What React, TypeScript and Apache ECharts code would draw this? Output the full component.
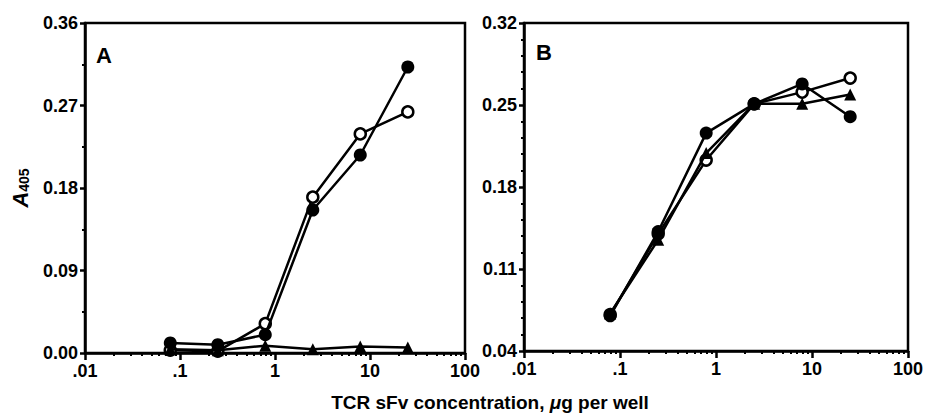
import React, { useEffect, useRef } from "react";
import * as echarts from "echarts";

const CONC = [0.079, 0.25, 0.79, 2.5, 7.9, 25];
const A_FILLED = [0.011, 0.009, 0.02, 0.156, 0.216, 0.312];
const A_OPEN = [0.003, 0.002, 0.032, 0.17, 0.239, 0.263];
const A_TRI = [0.004, 0.003, 0.008, 0.004, 0.007, 0.006];
const B_FILLED = [0.07, 0.142, 0.226, 0.251, 0.268, 0.24];
const B_OPEN = [0.071, 0.14, 0.203, 0.251, 0.261, 0.273];
const B_TRI = [0.072, 0.135, 0.209, 0.251, 0.251, 0.259];

const X_LABELS: Record<string, string> = { "-2": ".01", "-1": ".1", "0": "1", "1": "10", "2": "100" };
const A_Y_TICKS = [0, 0.09, 0.18, 0.27, 0.36];
const B_Y_TICKS = [0.04, 0.11, 0.18, 0.25, 0.32];

const FONT = "Liberation Sans";

function xMinor(): number[] {
  const out: number[] = [];
  for (let d = -2; d <= 1; d++) {
    for (let k = 2; k <= 9; k++) out.push(k * Math.pow(10, d));
  }
  return out;
}

function yMinorB(): number[] {
  const out: number[] = [];
  for (let i = 0; i < B_Y_TICKS.length - 1; i++) {
    const step = (B_Y_TICKS[i + 1] - B_Y_TICKS[i]) / 5;
    for (let j = 1; j < 5; j++) out.push(+(B_Y_TICKS[i] + step * j).toFixed(4));
  }
  return out;
}

const pair = (ys: number[]) => CONC.map((c, i) => [c, ys[i]]);

export default function App() {
  const ref = useRef<HTMLDivElement>(null);
  useEffect(() => {
    if (!ref.current) return;
    const chart = echarts.init(ref.current, null, { renderer: "svg" });
    const labelStyle = {
      color: "#000",
      fontFamily: FONT,
      fontWeight: "bold" as const,
      fontSize: 18,
    };
    const lineStyle = { color: "#000", width: 2.5 };
    const mainX = (grid: number) => ({
      type: "log" as const,
      logBase: 10,
      gridIndex: grid,
      min: 0.01,
      max: 100,
      position: "bottom" as const,
      axisLine: { show: true, lineStyle },
      axisTick: { show: true, length: 7, inside: false, lineStyle: { color: "#000", width: 2.5 } },
      minorTick: { show: false },
      splitLine: { show: false },
      axisLabel: {
        ...labelStyle,
        margin: 9,
        formatter: (v: number) => X_LABELS[String(Math.round(Math.log10(v)))] ?? "",
      },
    });
    const minorX = (grid: number) => ({
      type: "log" as const,
      logBase: 10,
      gridIndex: grid,
      min: 0.01,
      max: 100,
      position: "bottom" as const,
      axisLine: { show: false },
      axisTick: {
        show: true,
        length: 3,
        inside: false,
        customValues: xMinor(),
        lineStyle: { color: "#000", width: 2 },
      },
      splitLine: { show: false },
      axisLabel: { show: false },
    });
    const series = (name: string, data: number[], grid: number, sym: string, open: boolean, size: number) => ({
      name,
      type: "line" as const,
      xAxisIndex: grid === 0 ? 0 : 2,
      yAxisIndex: grid === 0 ? 0 : 1,
      data: pair(data),
      symbol: sym,
      symbolSize: size,
      lineStyle: { color: "#000", width: 2.5 },
      itemStyle: open
        ? { color: "#fff", borderColor: "#000", borderWidth: 2.5 }
        : { color: "#000", borderColor: "#000", borderWidth: 0 },
      z: open ? 3 : 4,
    });

    chart.setOption({
      animation: false,
      backgroundColor: "#fff",
      grid: [
        { left: 85, top: 23, width: 380, height: 330, show: true, borderColor: "#000", borderWidth: 2.5, backgroundColor: "transparent" },
        { left: 524, top: 23, width: 384, height: 328, show: true, borderColor: "#000", borderWidth: 2.5, backgroundColor: "transparent" },
      ],
      xAxis: [mainX(0), minorX(0), mainX(1), minorX(1)],
      yAxis: [
        {
          type: "value",
          gridIndex: 0,
          min: 0,
          max: 0.36,
          interval: 0.09,
          axisLine: { show: true, lineStyle },
          axisTick: { show: true, length: 5, lineStyle: { color: "#000", width: 2.5 } },
          minorTick: { show: true, splitNumber: 2, length: 3, lineStyle: { color: "#000", width: 2 } },
          splitLine: { show: false },
          axisLabel: { ...labelStyle, margin: 7, formatter: (v: number) => v.toFixed(2) },
        },
        {
          type: "value",
          gridIndex: 1,
          min: 0.04,
          max: 0.32,
          position: "left",
          axisLine: { show: true, lineStyle },
          axisTick: { show: true, length: 5, customValues: B_Y_TICKS, lineStyle: { color: "#000", width: 2.5 } },
          splitLine: { show: false },
          axisLabel: { ...labelStyle, margin: 7, customValues: B_Y_TICKS, formatter: (v: number) => v.toFixed(2) },
        },
        {
          type: "value",
          gridIndex: 1,
          min: 0.04,
          max: 0.32,
          position: "left",
          axisLine: { show: false },
          axisTick: { show: true, length: 3, customValues: yMinorB(), lineStyle: { color: "#000", width: 2 } },
          splitLine: { show: false },
          axisLabel: { show: false },
        },
      ],
      series: [
        series("A filled", A_FILLED, 0, "circle", false, 13),
        series("A open", A_OPEN, 0, "circle", true, 11),
        series("A triangle", A_TRI, 0, "triangle", false, 12),
        series("B open", B_OPEN, 1, "circle", true, 11),
        series("B triangle", B_TRI, 1, "triangle", false, 12),
        series("B filled", B_FILLED, 1, "circle", false, 13),
      ],
      graphic: [
        { type: "text", x: 96, y: 55, style: { text: "A", fontFamily: FONT, fontWeight: "bold", fontSize: 22, fill: "#000", verticalAlign: "middle" } },
        { type: "text", x: 536, y: 52, style: { text: "B", fontFamily: FONT, fontWeight: "bold", fontSize: 22, fill: "#000", verticalAlign: "middle" } },
        {
          type: "text",
          x: 490,
          y: 402,
          style: {
            text: "TCR sFv concentration, {m|μ}g per well",
            fontFamily: FONT,
            fontSize: 19,
            fontWeight: "bold",
            fill: "#000",
            align: "center",
            verticalAlign: "middle",
            rich: { m: { fontFamily: FONT, fontSize: 19, fontWeight: "bold", fontStyle: "italic", fill: "#000" } },
          },
        },
        {
          type: "text",
          x: 19,
          y: 188,
          rotation: Math.PI / 2,
          style: {
            text: "{a|A}{s|405}",
            align: "center",
            verticalAlign: "middle",
            fill: "#000",
            rich: {
              a: { fontFamily: FONT, fontSize: 22, fontStyle: "italic", fontWeight: "bold", fill: "#000", verticalAlign: "bottom", lineHeight: 24 },
              s: { fontFamily: FONT, fontSize: 14, fontWeight: "bold", fill: "#000", verticalAlign: "bottom", lineHeight: 16, padding: [6, 0, 0, 0] },
            },
          },
        },
      ],
    });
    return () => chart.dispose();
  }, []);
  return <div ref={ref} style={{ position: "absolute", left: 0, top: 0, width: 928, height: 415 }} />;
}
